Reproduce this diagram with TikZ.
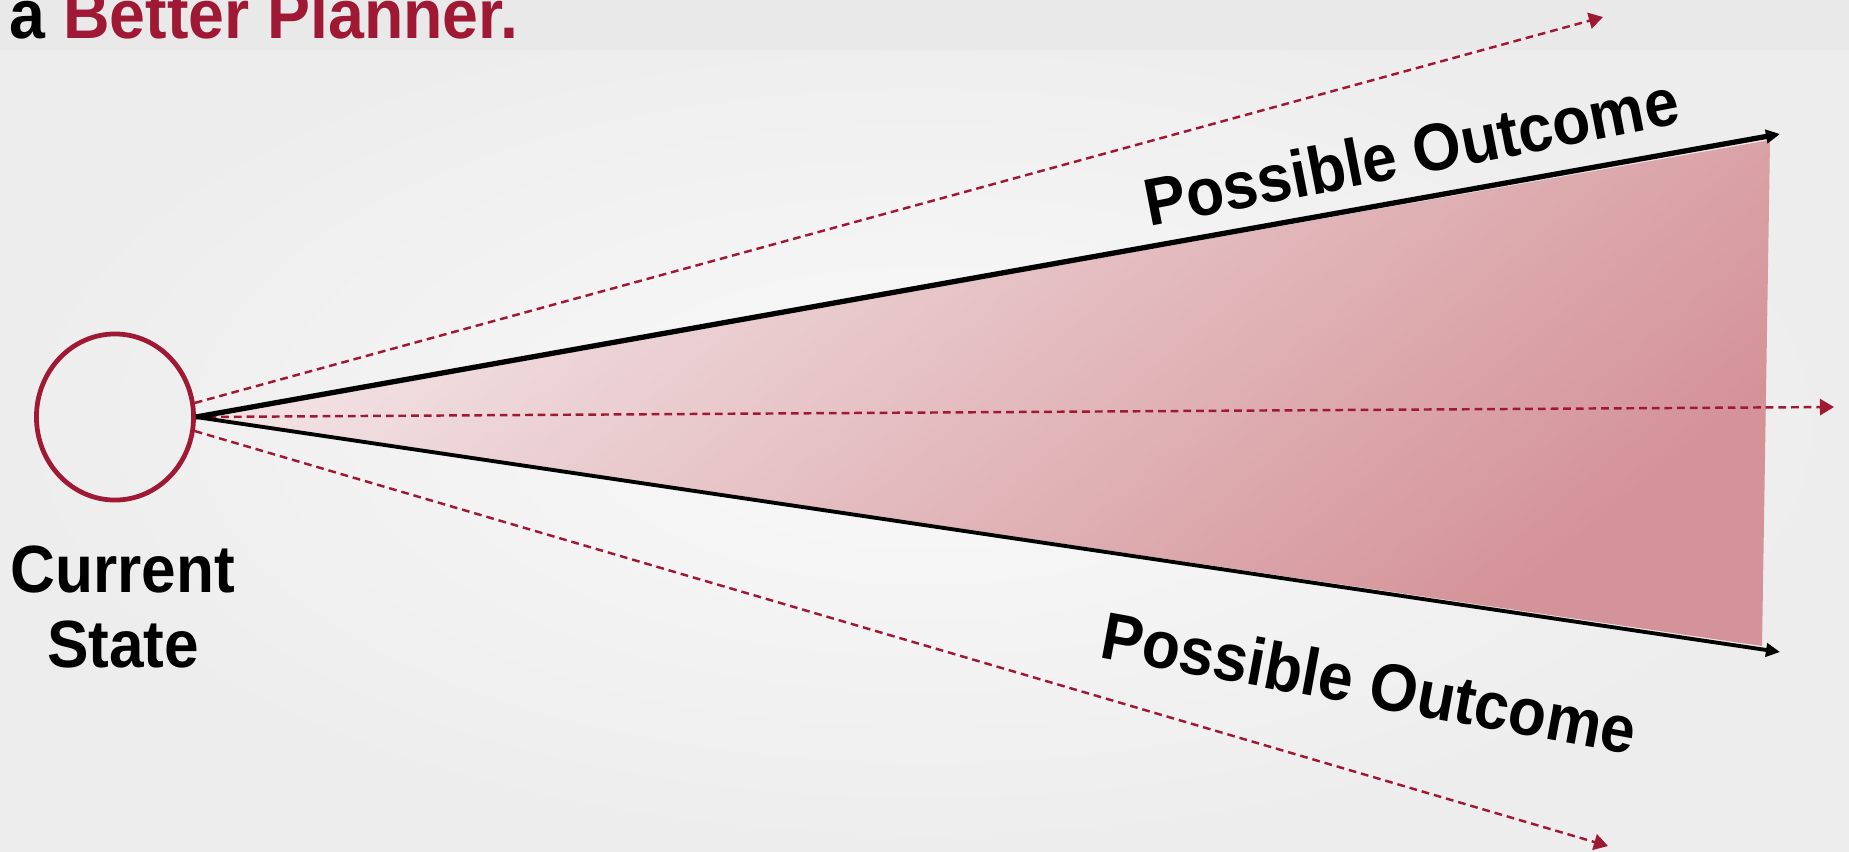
\documentclass[tikz,border=0pt]{standalone}
\usepackage{fontspec}
\setmainfont{Liberation Sans}
\newfontfamily\tagfont[FakeStretch=0.93]{Liberation Sans}
\definecolor{PlanRed}{RGB}{160,25,52}
\definecolor{BandGray}{RGB}{233,233,233}
\definecolor{BackLight}{RGB}{249,249,249}
\definecolor{BackDark}{RGB}{237,237,237}
\definecolor{ConeLight}{RGB}{243,229,231}
\definecolor{ConeDark}{RGB}{212,147,152}
\usepackage{tikz}
\usetikzlibrary{arrows.meta, shapes.geometric, positioning}

\begin{document}
\begin{tikzpicture}[x=0.01cm, y=-0.01cm,
	estado/.style={ellipse, draw=PlanRed, line width=1.35pt, minimum width=1.57cm, minimum height=1.66cm, inner sep=0pt},
	rumbo/.style={line width=1.5pt, -{Triangle[length=4pt, width=3.8pt]}},
	posible/.style={PlanRed, line width=0.7pt, dash pattern=on 2.2pt off 1.4pt, -{Triangle[length=4pt, width=4.6pt]}},
	etiqueta/.style={font=\tagfont\bfseries\fontsize{19pt}{21.3pt}\selectfont, inner sep=0pt}]
	\useasboundingbox (0,0) rectangle (1849,851);
	\clip (0,0) rectangle (1849,851);
	% fondo y franja del titulo
	\shade[inner color=BackLight, outer color=BackDark] (0,0) rectangle (1849,851);
	\fill[BandGray] (0,0) rectangle (1849,50);
	\node[etiqueta, anchor=base west, font=\tagfont\bfseries\fontsize{19.7pt}{22pt}\selectfont] (titulo) at (9,38) {a \textcolor{PlanRed}{Better Planner.}};
	\node[estado] (s) at (115,417) {};
	\node[etiqueta, align=center, anchor=north] (cs) at (123,545) {Current\\State};
	\coordinate (t1) at (1780,134);
	\coordinate (t2) at (1780,652);
	\coordinate (d1) at (1603,17);
	\coordinate (d2) at (1834,407);
	\coordinate (d3) at (1608,846);
	\shade[left color=ConeLight, right color=ConeDark, shading angle=40] (s.east) -- (1770,140) -- (1762,646) -- cycle;
	\draw[posible] (s.10) -- (d1);
	\draw[posible] (s.east) -- (d2);
	\draw[posible] (s.-10) -- (d3);
	\draw[rumbo] (s.east) -- (t1);
	\draw[rumbo, line width=1.1pt] (s.east) -- (t2);
	\node[etiqueta, rotate=11, anchor=base] (o1) at (1416,175) {Possible Outcome};
	\node[etiqueta, rotate=-10.4, anchor=base] (o2) at (1365,706) {Possible Outcome};
\end{tikzpicture}
\end{document}
